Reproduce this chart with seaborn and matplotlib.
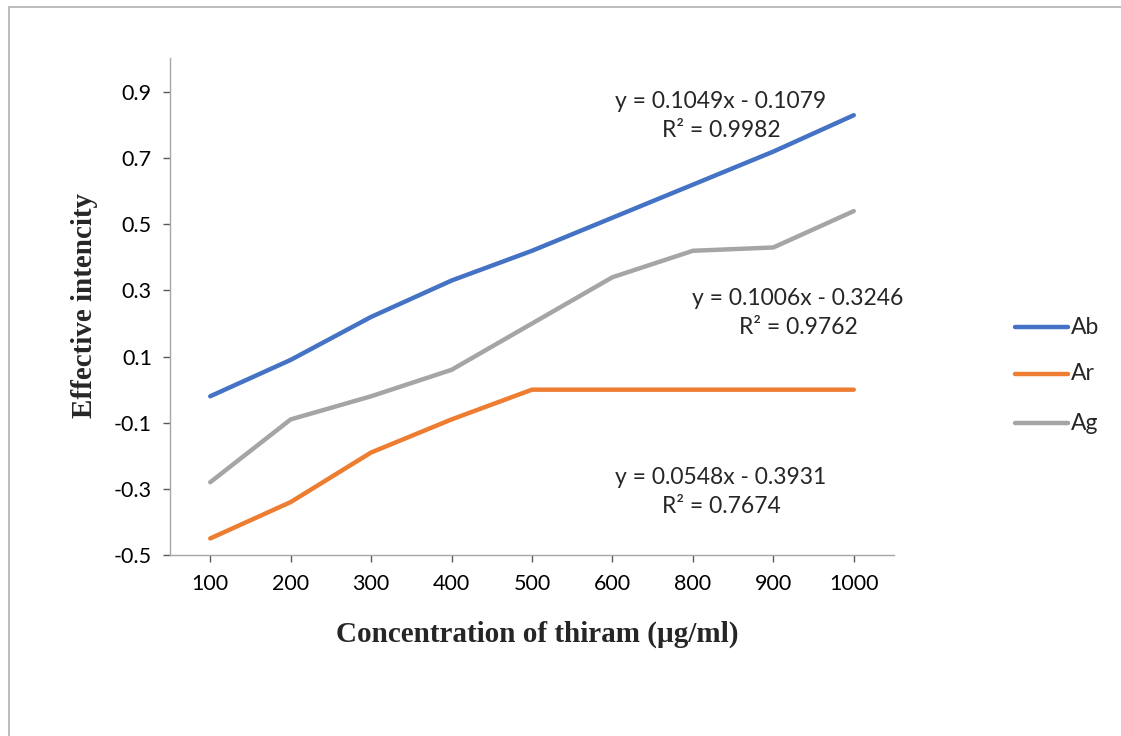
import matplotlib
matplotlib.use("Agg")
import matplotlib.pyplot as plt
from matplotlib.patches import Rectangle
import seaborn as sns
import pandas as pd

# data
concentrations = ["100", "200", "300", "400", "500", "600", "800", "900", "1000"]
ab_values = [-0.02, 0.09, 0.22, 0.33, 0.42, 0.52, 0.62, 0.72, 0.83]
ar_values = [-0.45, -0.34, -0.19, -0.09, 0.0, 0.0, 0.0, 0.0, 0.0]
ag_values = [-0.28, -0.09, -0.02, 0.06, 0.20, 0.34, 0.42, 0.43, 0.54]
series_names = ["Ab", "Ar", "Ag"]
series_colors = ["#4472C4", "#ED7D31", "#A5A5A5"]
y_ticks = [-0.5, -0.3, -0.1, 0.1, 0.3, 0.5, 0.7, 0.9]
trend_labels = [
    "y = 0.1049x - 0.1079\nR² = 0.9982",
    "y = 0.1006x - 0.3246\nR² = 0.9762",
    "y = 0.0548x - 0.3931\nR² = 0.7674",
]

rows = []
for name, vals in zip(series_names, [ab_values, ar_values, ag_values]):
    for i, (c, v) in enumerate(zip(concentrations, vals)):
        rows.append({"pos": i, "conc": c, "value": v, "series": name})
df = pd.DataFrame(rows)

sns.set_style("white")
plt.rcParams["font.family"] = ["Lato", "DejaVu Sans"]

W, H = 1121, 736
fig = plt.figure(figsize=(W / 100, H / 100), dpi=100)
ax = fig.add_axes([170 / W, 1 - 555 / H, (894 - 170) / W, (555 - 58) / H])

# outer chart frame
fig.patches.append(Rectangle((9 / W, -0.1), 1.2, 1 - 7 / H + 0.1, transform=fig.transFigure,
                             fill=False, edgecolor="#b0b0b0", linewidth=1.2))

sns.lineplot(data=df, x="pos", y="value", hue="series", palette=series_colors,
             hue_order=series_names, linewidth=3.2, ax=ax, legend=False)

ax.set_xlim(-0.5, len(concentrations) - 0.5)
ax.set_ylim(-0.5, 1.003)
ax.set_xticks(range(len(concentrations)))
ax.set_xticklabels(concentrations)
ax.set_yticks(y_ticks)
ax.set_yticklabels([f"{t:.1f}" for t in y_ticks])
ax.tick_params(axis="both", labelsize=15.5, colors="#595959", labelcolor="black",
               length=5, width=1, direction="out", bottom=True, left=True)
ax.tick_params(axis="x", pad=9)
ax.tick_params(axis="y", pad=8)
for s in ["top", "right"]:
    ax.spines[s].set_visible(False)
for s in ["left", "bottom"]:
    ax.spines[s].set_color("#a6a6a6")
    ax.spines[s].set_linewidth(1)

ax.set_xlabel("")
ax.set_ylabel("")
fig.text(537 / W, 1 - 634 / H, "Concentration of thiram (µg/ml)", ha="center", va="center",
         fontsize=21, fontweight="bold", family="Liberation Serif")
fig.text(84 / W, 1 - 306 / H, "Effective intencity", ha="center", va="center", rotation=90,
         fontsize=21, fontweight="bold", family="Liberation Serif")

# trendline equations
label_pos = [(721, 116), (798, 313), (721, 492)]
for (px, py), lab in zip(label_pos, trend_labels):
    fig.text(px / W, 1 - py / H, lab, ha="center", va="center", fontsize=16.5,
             linespacing=1.45)

# legend
for name, color, ly in zip(series_names, series_colors, [327, 374, 423]):
    fig.add_artist(plt.Line2D([1015 / W, 1068 / W], [1 - ly / H, 1 - ly / H],
                              color=color, linewidth=3.2, transform=fig.transFigure))
    fig.text(1071 / W, 1 - ly / H, name, ha="left", va="center", fontsize=16.5)

fig.savefig("out.png", dpi=100)
